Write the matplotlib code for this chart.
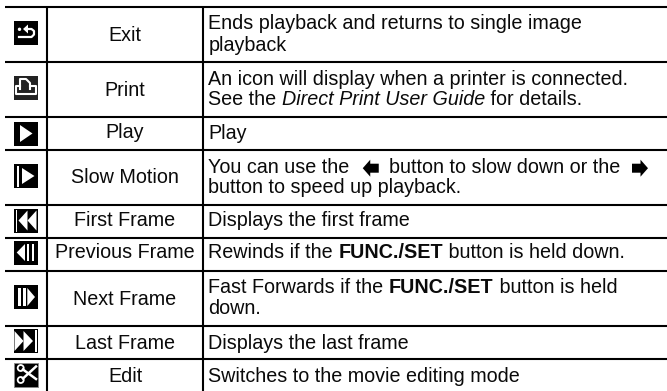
"""Playback controls table from a camera manual."""

import matplotlib

matplotlib.use("Agg")
import matplotlib.pyplot as plt
from matplotlib.patches import Circle, Polygon, Rectangle

OUT_PATH = "out.png"
FONT = "Liberation Sans"
FONT_SIZE = 14.2
TEXT_COLOR = "#0a0a0a"

ICONS = ["exit", "print", "play", "slow", "first", "previous", "next", "last", "edit"]
FUNCTIONS = [
    "Exit",
    "Print",
    "Play",
    "Slow Motion",
    "First Frame",
    "Previous Frame",
    "Next Frame",
    "Last Frame",
    "Edit",
]
# each description is a list of lines, each line a list of (text, style) runs
DESCRIPTIONS = [
    [[("Ends playback and returns to single image", "n")], [("playback", "n")]],
    [
        [("An icon will display when a printer is connected.", "n")],
        [("See the ", "n"), ("Direct Print User Guide", "i"), (" for details.", "n")],
    ],
    [[("Play", "n")]],
    [
        [
            ("You can use the", "n"),
            ("", "arrow_left"),
            ("button to slow down or the", "n"),
            ("", "arrow_right"),
        ],
        [("button to speed up playback.", "n")],
    ],
    [[("Displays the first frame", "n")]],
    [
        [
            ("Rewinds if the ", "n"),
            ("FUNC./SET", "b"),
            (" button is held down.", "n"),
        ]
    ],
    [
        [
            ("Fast Forwards if the ", "n"),
            ("FUNC./SET", "b"),
            (" button is held", "n"),
        ],
        [("down.", "n")],
    ],
    [[("Displays the last frame", "n")]],
    [[("Switches to the movie editing mode", "n")]],
]

# layout in reference pixels
ROW_LINES = [6.5, 62, 117, 150, 205, 238, 271, 326, 359]
COL_LINES = [47, 203]
ICON_TOPS = [21, 76, 122, 164, 208.5, 241, 285, 329, 362.5]
NAME_BASELINES = [40.7, 95.7, 138.5, 182.7, 226.3, 258.5, 305, 349, 381.7]
DESC_BASELINES = [
    [29.3, 50.7],
    [85, 105.3],
    [139],
    [172.7, 193.3],
    [226.5],
    [258.5],
    [292.7, 314],
    [349],
    [382],
]
STYLES = {
    "n": {},
    "i": {"style": "italic"},
    "b": {"weight": "bold"},
}


def rel(points, x0, y0):
    return [(x0 + x, y0 + y) for x, y in points]


def white_poly(ax, points, x0, y0):
    ax.add_patch(Polygon(rel(points, x0, y0), closed=True, fc="white", ec="none", zorder=3))


def white_bar(ax, left, right, top, bottom, x0, y0):
    ax.add_patch(Rectangle((x0 + left, y0 + top), right - left, bottom - top, fc="white", ec="none", zorder=3))


def draw_icon(ax, name, x0, y0):
    box = "#222222" if name == "print" else "black"
    edge = "#888888" if name == "edit" else "none"
    ax.add_patch(Rectangle((x0, y0), 24, 24, fc=box, ec=edge, lw=0.7, zorder=2))
    if name == "exit":
        ax.add_patch(Circle((x0 + 5.5, y0 + 8.3), 1.7, fc="white", ec="none", zorder=3))
        white_poly(ax, [(9, 8), (14, 3.5), (14, 12.5)], x0, y0)
        path = [(13, 8), (17.5, 8), (20, 10), (20, 13.5), (17.5, 16), (5, 16)]
        pts = rel(path, x0, y0)
        ax.plot([p[0] for p in pts], [p[1] for p in pts], color="white", lw=1.6, zorder=3)
    elif name == "print":
        paper = [(6, 13), (6, 3), (12, 3), (16, 7), (16, 13)]
        tray = [(6, 10), (2, 10), (2, 18), (22, 18), (22, 10), (16, 10)]
        for path in (paper, tray):
            pts = rel(path, x0, y0)
            ax.plot([p[0] for p in pts], [p[1] for p in pts], color="white", lw=1.5, zorder=3)
    elif name == "play":
        white_poly(ax, [(6, 3), (18.5, 11.5), (6, 20)], x0, y0)
    elif name == "slow":
        white_bar(ax, 2.5, 4.5, 1.5, 22.5, x0, y0)
        white_poly(ax, [(8, 4), (20.5, 12), (8, 20)], x0, y0)
    elif name == "first":
        white_bar(ax, 1.5, 3, 1, 23, x0, y0)
        white_poly(ax, [(4.5, 12), (13.5, 2), (13.5, 22)], x0, y0)
        white_poly(ax, [(13.5, 12), (22.5, 2), (22.5, 22)], x0, y0)
    elif name == "previous":
        white_poly(ax, [(2.7, 11.5), (11, 3), (11, 20)], x0, y0)
        white_bar(ax, 12.5, 15, 3, 20, x0, y0)
        white_bar(ax, 17.5, 20, 3, 20, x0, y0)
    elif name == "next":
        white_bar(ax, 4.3, 6.7, 3, 21, x0, y0)
        white_bar(ax, 9.3, 12, 3, 21, x0, y0)
        white_poly(ax, [(13.3, 3), (21, 12), (13.3, 21)], x0, y0)
    elif name == "last":
        white_poly(ax, [(0.5, 2), (9.5, 12), (0.5, 22)], x0, y0)
        white_poly(ax, [(9.5, 2), (19, 12), (9.5, 22)], x0, y0)
        white_bar(ax, 20.5, 22.5, 1, 23, x0, y0)
    elif name == "edit":
        ax.add_patch(Circle((x0 + 6.7, y0 + 5.5), 3, fc="none", ec="white", lw=1.3, zorder=3))
        ax.add_patch(Circle((x0 + 6.7, y0 + 17.5), 3, fc="none", ec="white", lw=1.3, zorder=3))
        for path in ([(9, 7), (22, 16.5)], [(9, 16), (22, 4)]):
            pts = rel(path, x0, y0)
            ax.plot([p[0] for p in pts], [p[1] for p in pts], color="white", lw=1.8, zorder=3)


def draw_arrow(ax, x, baseline, direction):
    # small solid arrow used inside the sentence, 16 px wide
    shape = [(0, 0), (7.5, -8.5), (7.5, -4.5), (16, -4.5), (16, 4.5), (7.5, 4.5), (7.5, 8.5)]
    cy = baseline - 4.5
    if direction == "right":
        pts = [(x + 16 - dx, cy + dy) for dx, dy in shape]
    else:
        pts = [(x + dx, cy + dy) for dx, dy in shape]
    ax.add_patch(Polygon(pts, closed=True, fc="black", ec="none", zorder=3))


def run_width(fig, run, kw):
    renderer = fig.canvas.get_renderer()
    a = fig.text(0, 0, "|" + run + "|", fontsize=FONT_SIZE, family=FONT, **kw)
    b = fig.text(0, 0, "||", fontsize=FONT_SIZE, family=FONT, **kw)
    w = a.get_window_extent(renderer).width - b.get_window_extent(renderer).width
    a.remove()
    b.remove()
    return w


def draw_line(fig, ax, runs, x, baseline):
    for text, style in runs:
        if style == "arrow_left":
            draw_arrow(ax, x + 13, baseline, "left")
            x += 39
        elif style == "arrow_right":
            draw_arrow(ax, x + 12, baseline, "right")
            x += 28
        else:
            kw = STYLES[style]
            ax.text(x, baseline, text, fontsize=FONT_SIZE, family=FONT, color=TEXT_COLOR, ha="left", va="baseline", **kw)
            x += run_width(fig, text, kw)


def main():
    fig = plt.figure(figsize=(6.67, 3.91), dpi=100)
    ax = fig.add_axes([0, 0, 1, 1])
    ax.set_xlim(0, 667)
    ax.set_ylim(391, 0)
    ax.axis("off")

    for y in ROW_LINES:
        ax.plot([5, 667], [y, y], color="black", lw=1.5, solid_capstyle="butt", zorder=1)
    for x in COL_LINES:
        ax.plot([x, x], [ROW_LINES[0], 391], color="black", lw=1.5, solid_capstyle="butt", zorder=1)

    for i, name in enumerate(FUNCTIONS):
        draw_icon(ax, ICONS[i], 14, ICON_TOPS[i])
        ax.text(125, NAME_BASELINES[i], name, fontsize=FONT_SIZE, family=FONT, color=TEXT_COLOR, ha="center", va="baseline")
        for runs, baseline in zip(DESCRIPTIONS[i], DESC_BASELINES[i]):
            draw_line(fig, ax, runs, 208.5, baseline)

    fig.savefig(OUT_PATH, dpi=100, facecolor="white")
    plt.close(fig)


if __name__ == "__main__":
    main()
